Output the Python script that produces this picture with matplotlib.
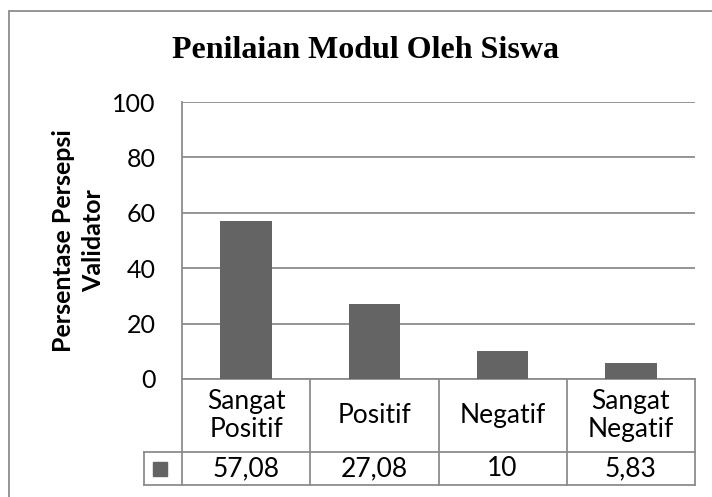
import matplotlib.pyplot as plt
from matplotlib.patches import Rectangle

categories = ['Sangat\nPositif', 'Positif', 'Negatif', 'Sangat\nNegatif']
values = [57.08, 27.08, 10, 5.83]
value_labels = ['57,08', '27,08', '10', '5,83']
yticks = [0, 20, 40, 60, 80, 100]

W, H = 712, 497
fig = plt.figure(figsize=(W / 100, H / 100), dpi=100)
plt.rcParams['font.family'] = ['Lato', 'DejaVu Sans']
line_col = '#8c8c8c'
bar_col = '#646464'
fs = 18

# outer frame of the chart object
fig.patches.append(Rectangle((9 / W, -0.1), 1.2, 1 - 11 / H + 0.1, transform=fig.transFigure,
                             fill=False, edgecolor=line_col, linewidth=1.3))

left, right, top, bottom = 182, 695, 102, 379
ax = fig.add_axes([left / W, 1 - bottom / H, (right - left) / W, (bottom - top) / H])

x = range(len(values))
ax.bar(x, values, width=0.4, color=bar_col, zorder=3)
ax.set_xlim(-0.5, len(values) - 0.5)
ax.set_ylim(0, 100)
ax.set_yticks(yticks)
ax.set_yticklabels([str(t) for t in yticks], fontsize=fs)
ax.tick_params(axis='y', length=0, pad=19)
ax.set_xticks([])
ax.grid(axis='y', color=line_col, linewidth=1.3, zorder=0)
for s in ['top', 'right', 'bottom']:
    ax.spines[s].set_visible(False)
ax.spines['left'].set_color(line_col)
ax.spines['left'].set_linewidth(1.3)

ax.set_ylabel('Persentase Persepsi\nValidator', fontsize=fs, fontweight='bold', labelpad=5,
              linespacing=1.4)

fig.text(366 / W, 1 - 51 / H, 'Penilaian Modul Oleh Siswa', family='Liberation Serif',
         fontsize=23, fontweight='bold', ha='center', va='center')

# data table below the plot
row1 = (452 - bottom) / (bottom - top)
row2 = (485 - bottom) / (bottom - top)
key_left = (144 - left) / (right - left)
kw = dict(transform=ax.transAxes, color=line_col, linewidth=1.3, clip_on=False)
ax.plot([0, 1], [0, 0], **kw)
ax.plot([key_left, 1], [-row1, -row1], **kw)
ax.plot([key_left, 1], [-row2, -row2], **kw)
ax.plot([key_left, key_left], [-row1, -row2], **kw)
n = len(values)
for i in range(n + 1):
    ax.plot([i / n, i / n], [0, -row2], **kw)
for i in range(n):
    ax.text((i + 0.5) / n, -row1 / 2, categories[i], transform=ax.transAxes,
            ha='center', va='center', fontsize=19, linespacing=1.15)
    ax.text((i + 0.5) / n, -(row1 + row2) / 2, value_labels[i], transform=ax.transAxes,
            ha='center', va='center', fontsize=19)
ksz = 14 / (bottom - top)
kx = (160 - left) / (right - left)
ax.add_patch(Rectangle((kx - 7 / (right - left), -(row1 + row2) / 2 - ksz / 2), 14 / (right - left), ksz,
                       transform=ax.transAxes, color=bar_col, clip_on=False))

fig.savefig('out.png', dpi=100)
